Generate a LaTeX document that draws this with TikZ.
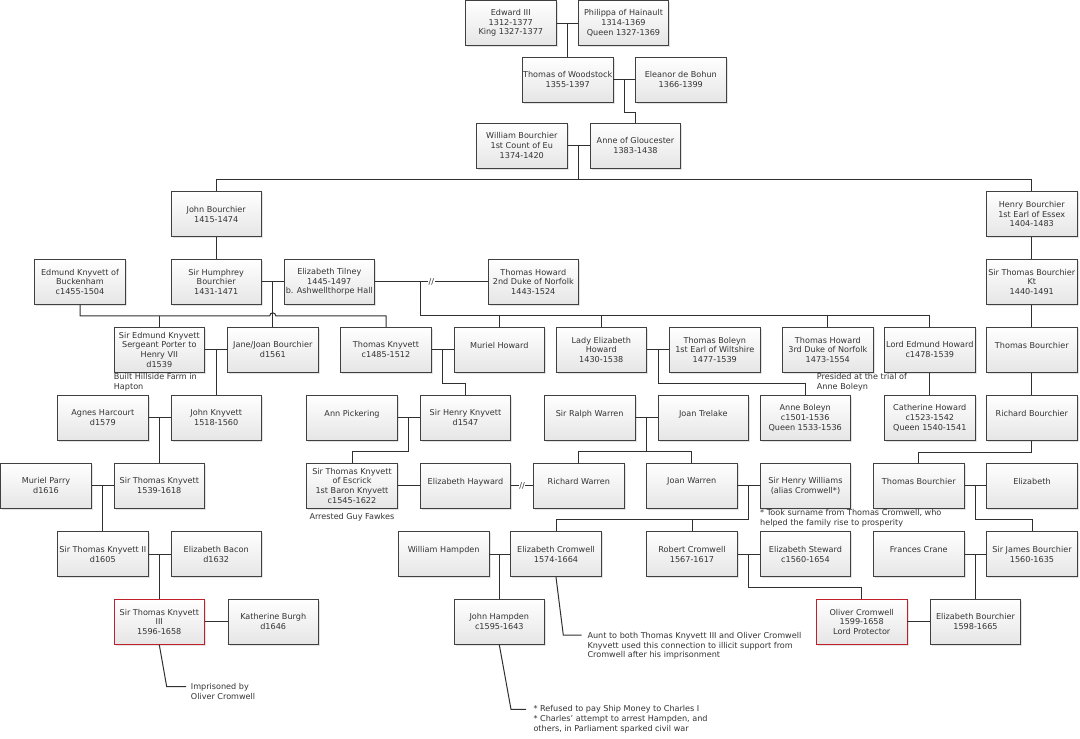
\documentclass[tikz,border=0pt]{standalone}
\usepackage{fontspec}
\setmainfont{DejaVu Sans}
\usetikzlibrary{calc,shadows}
\definecolor{boxline}{HTML}{404040}
\definecolor{connc}{HTML}{303030}
\definecolor{txt}{HTML}{333333}
\definecolor{redline}{RGB}{192,32,44}
\tikzset{
 person/.style={draw=boxline, line width=0.9pt, top color=white, bottom color=black!10,
   minimum width=90.5pt, minimum height=45pt, inner sep=0pt, align=center, text=txt,
   font=\fontsize{8.1}{9.7}\selectfont,
   drop shadow={shadow xshift=1.6pt, shadow yshift=-1.6pt, opacity=0.22}},
 redp/.style={person, draw=redline},
 link/.style={draw=connc, line width=1pt},
 note/.style={anchor=north west, align=left, inner sep=0pt, text=txt,
   font=\fontsize{8.1}{9.7}\selectfont, execute at begin node=\strut},
 sepmark/.style={fill=white, inner sep=0.6pt, text=txt, font=\fontsize{8.1}{9.7}\selectfont}
}
\begin{document}
\begin{tikzpicture}[x=1pt,y=-1pt]
\fill[white] (0,0) rectangle (1080,739);
\useasboundingbox (0,0) rectangle (1080,739);

% row 1
\node[person] (edward) at (510.8,23) {Edward III\\1312-1377\\King 1327-1377};
\node[person] (philippa) at (623.5,23) {Philippa of Hainault\\1314-1369\\Queen 1327-1369};
% row 2
\node[person] (woodstock) at (567.7,79.5) {Thomas of Woodstock\\1355-1397};
\node[person] (eleanor) at (680.8,79.5) {Eleanor de Bohun\\1366-1399};
% row 3
\node[person] (william) at (521.8,145.5) {William Bourchier\\1st Count of Eu\\1374-1420};
\node[person] (anne) at (635.5,145.5) {Anne of Gloucester\\1383-1438};
% row 4
\node[person] (johnb) at (216.2,214.2) {John Bourchier\\1415-1474};
\node[person] (henryb) at (1031.8,214.2) {Henry Bourchier\\1st Earl of Essex\\1404-1483};
% row 5
\node[person] (edmundkb) at (80,281.8) {Edmund Knyvett of\\Buckenham\\c1455-1504};
\node[person] (humphrey) at (216.2,281.8) {Sir Humphrey\\Bourchier\\1431-1471};
\node[person] (tilney) at (329.3,281.8) {Elizabeth Tilney\\1445-1497\\b. Ashwellthorpe Hall};
\node[person] (thowar2) at (533.3,281.8) {Thomas Howard\\2nd Duke of Norfolk\\1443-1524};
\node[person] (thomasbk) at (1031.8,281.8) {Sir Thomas Bourchier\\Kt\\1440-1491};
% row 6
\node[person] (edmundk) at (159.3,349.8) {Sir Edmund Knyvett\\Sergeant Porter to\\Henry VII\\d1539};
\node[person] (jane) at (272.8,349.8) {Jane/Joan Bourchier\\d1561};
\node[person] (thknyvett) at (386,349.8) {Thomas Knyvett\\c1485-1512};
\node[person] (muriel) at (499.3,349.8) {Muriel Howard\\\mbox{}};
\node[person] (lizhoward) at (601.3,349.8) {Lady Elizabeth\\Howard\\1430-1538};
\node[person] (boleyn) at (714.8,349.8) {Thomas Boleyn\\1st Earl of Wiltshire\\1477-1539};
\node[person] (thoward3) at (827.8,349.8) {Thomas Howard\\3rd Duke of Norfolk\\1473-1554};
\node[person] (lordedmund) at (929.8,349.8) {Lord Edmund Howard\\c1478-1539};
\node[person] (thomasb1) at (1031.8,349.8) {Thomas Bourchier\\\mbox{}};
% row 7
\node[person] (agnes) at (102.8,417.8) {Agnes Harcourt\\d1579};
\node[person] (johnk) at (216.2,417.8) {John Knyvett\\1518-1560};
\node[person] (annp) at (352,417.8) {Ann Pickering\\\mbox{}};
\node[person] (henryk) at (465.5,417.8) {Sir Henry Knyvett\\d1547};
\node[person] (ralph) at (589.7,417.8) {Sir Ralph Warren\\\mbox{}};
\node[person] (joant) at (703.3,417.8) {Joan Trelake\\\mbox{}};
\node[person] (anneb) at (805.2,417.8) {Anne Boleyn\\c1501-1536\\Queen 1533-1536};
\node[person] (catherine) at (929.8,417.8) {Catherine Howard\\c1523-1542\\Queen 1540-1541};
\node[person] (richardb) at (1031.8,417.8) {Richard Bourchier\\\mbox{}};
% row 8
\node[person] (murielp) at (46,485.8) {Muriel Parry\\d1616};
\node[person] (thomask1) at (159.3,485.8) {Sir Thomas Knyvett\\1539-1618};
\node[person] (escrick) at (352,485.8) {Sir Thomas Knyvett\\of Escrick\\1st Baron Knyvett\\c1545-1622};
\node[person] (hayward) at (465.5,485.8) {Elizabeth Hayward\\\mbox{}};
\node[person] (richardw) at (578.8,485.8) {Richard Warren\\\mbox{}};
\node[person] (joanw) at (691.7,485.8) {Joan Warren\\\mbox{}};
\node[person] (williams) at (805.5,485.8) {Sir Henry Williams\\(alias Cromwell*)};
\node[person] (thomasb2) at (918.8,485.8) {Thomas Bourchier\\\mbox{}};
\node[person] (elizabeth) at (1032,485.8) {Elizabeth\\\mbox{}};
% row 9
\node[person] (thomask2) at (102.8,554.2) {Sir Thomas Knyvett II\\d1605};
\node[person] (bacon) at (216.2,554.2) {Elizabeth Bacon\\d1632};
\node[person] (hampdenw) at (443.7,554.2) {William Hampden\\\mbox{}};
\node[person] (lizcromwell) at (556,554.2) {Elizabeth Cromwell\\1574-1664};
\node[person] (robert) at (692,554.2) {Robert Cromwell\\1567-1617};
\node[person] (steward) at (805.5,554.2) {Elizabeth Steward\\c1560-1654};
\node[person] (frances) at (918.8,554.2) {Frances Crane\\\mbox{}};
\node[person] (james) at (1032,554.2) {Sir James Bourchier\\1560-1635};
% row 10
\node[redp] (thomask3) at (159.3,621.8) {Sir Thomas Knyvett\\III\\1596-1658};
\node[person] (katherine) at (273.2,621.8) {Katherine Burgh\\d1646};
\node[person] (johnh) at (499.3,621.8) {John Hampden\\c1595-1643};
\node[redp] (oliver) at (861.7,621.8) {Oliver Cromwell\\1599-1658\\Lord Protector};
\node[person] (elizb) at (975.5,621.8) {Elizabeth Bourchier\\1598-1665};

% notes
\node[note] (n1) at (113.7,373.4) {Built Hillside Farm in\\Hapton};
\node[note] (n2) at (816.7,373.4) {Presided at the trial of\\Anne Boleyn};
\node[note] (n3) at (309.3,512.4) {Arrested Guy Fawkes};
\node[note] (n4) at (760,509.4) {* Took surname from Thomas Cromwell, who\\helped the family rise to prosperity};
\node[note] (n5) at (587.3,632) {Aunt to both Thomas Knyvett III and Oliver Cromwell\\Knyvett used this connection to illicit support from\\Cromwell after his imprisonment};
\node[note] (n6) at (533.3,705.4) {* Refused to pay Ship Money to Charles I\\* Charles' attempt to arrest Hampden, and\\others, in Parliament sparked civil war};
\node[note] (n7) at (190.7,683.4) {Imprisoned by\\Oliver Cromwell};

% connectors
\draw[link] (edward.east) -- (philippa.west);
\coordinate (m1) at ($(edward.east)!.5!(philippa.west)$);
\draw[link] (m1) -- (m1 |- woodstock.north);

\draw[link] (woodstock.east) -- (eleanor.west);
\coordinate (m2) at ($(woodstock.east)!.5!(eleanor.west)$);
\draw[link] (m2) |- ([yshift=10pt]anne.north) -- (anne.north);

\draw[link] (william.east) -- (anne.west);
\coordinate (m3) at ($(william.east)!.5!(anne.west)$);
\coordinate (b1) at ([yshift=11.7pt]johnb.north);
\draw[link] (m3) -- (m3 |- b1);
\draw[link] (johnb.north) -- (b1) -| (henryb.north);

\draw[link] (johnb.south) -- (humphrey.north);
\draw[link] (humphrey.east) -- (tilney.west);
\coordinate (m4) at ($(humphrey.east)!.5!(tilney.west)$);
\draw[link] (m4) -- (m4 |- jane.north);

\coordinate (b2) at ([yshift=11pt]edmundk.north);
\draw[link] (edmundkb.south) -- (edmundkb.south |- b2) -- ([xshift=-3pt]m4 |- b2)
  arc[start angle=180, end angle=0, radius=3pt] -- (thknyvett.north |- b2) -- (thknyvett.north);
\draw[link] (edmundk.north) -- (b2);

\draw[link] (edmundk.east) -- (jane.west);
\coordinate (m5) at ($(edmundk.east)!.5!(jane.west)$);
\draw[link] (m5) -- (m5 |- johnk.north);

\draw[link] (thknyvett.east) -- (muriel.west);
\coordinate (m6) at ($(thknyvett.east)!.5!(muriel.west)$);
\draw[link] (m6) |- ([yshift=11pt]henryk.north) -- (henryk.north);

\draw[link] (tilney.east) -- node[sepmark]{//} (thowar2.west);
\coordinate (j1) at ($(tilney.east)!.406!(thowar2.west)$);
\coordinate (b3) at ([yshift=11pt]lordedmund.north);
\draw[link] (j1) |- (b3) -- (lordedmund.north);
\draw[link] (muriel.north) -- (muriel.north |- b3);
\draw[link] (lizhoward.north) -- (lizhoward.north |- b3);
\draw[link] (thoward3.north) -- (thoward3.north |- b3);

\draw[link] (lizhoward.east) -- (boleyn.west);
\coordinate (m8) at ($(lizhoward.east)!.5!(boleyn.west)$);
\draw[link] (m8) |- ([yshift=11pt]anneb.north) -- (anneb.north);

\draw[link] (lordedmund.south) -- (catherine.north);
\draw[link] (henryb.south) -- (thomasbk.north);
\draw[link] (thomasbk.south) -- (thomasb1.north);
\draw[link] (thomasb1.south) -- (richardb.north);
\draw[link] (richardb.south) |- ([yshift=10.6pt]thomasb2.north) -- (thomasb2.north);

\draw[link] (agnes.east) -- (johnk.west);
\coordinate (m9) at ($(agnes.east)!.5!(johnk.west)$);
\draw[link] (m9) -- (m9 |- thomask1.north);

\draw[link] (annp.east) -- (henryk.west);
\coordinate (m10) at ($(annp.east)!.5!(henryk.west)$);
\draw[link] (m10) |- ([yshift=11.7pt]escrick.north) -- (escrick.north);

\draw[link] (ralph.east) -- (joant.west);
\coordinate (m11) at ($(ralph.east)!.5!(joant.west)$);
\coordinate (b4) at ([yshift=11pt]richardw.north);
\draw[link] (m11) -- (m11 |- b4);
\draw[link] (richardw.north) -- (b4) -| (joanw.north);

\draw[link] (murielp.east) -- (thomask1.west);
\coordinate (m12) at ($(murielp.east)!.5!(thomask1.west)$);
\draw[link] (m12) -- (m12 |- thomask2.north);

\draw[link] (escrick.east) -- (hayward.west);
\draw[link] (hayward.east) -- node[sepmark]{//} (richardw.west);

\draw[link] (joanw.east) -- (williams.west);
\coordinate (m13) at ($(joanw.east)!.5!(williams.west)$);
\coordinate (b5) at ([yshift=11.4pt]lizcromwell.north);
\draw[link] (m13) |- (b5) -- (lizcromwell.north);
\draw[link] (robert.north) -- (robert.north |- b5);

\draw[link] (thomasb2.east) -- (elizabeth.west);
\coordinate (m14) at ($(thomasb2.east)!.5!(elizabeth.west)$);
\draw[link] (m14) |- ([yshift=11.4pt]james.north) -- (james.north);

\draw[link] (thomask2.east) -- (bacon.west);
\coordinate (m15) at ($(thomask2.east)!.5!(bacon.west)$);
\draw[link] (m15) -- (m15 |- thomask3.north);

\draw[link] (hampdenw.east) -- (lizcromwell.west);
\coordinate (m16) at ($(hampdenw.east)!.5!(lizcromwell.west)$);
\draw[link] (m16) -- (m16 |- johnh.north);

\draw[link] (robert.east) -- (steward.west);
\coordinate (m17) at ($(robert.east)!.5!(steward.west)$);
\draw[link] (m17) |- ([yshift=11pt]oliver.north) -- (oliver.north);

\draw[link] (frances.east) -- (james.west);
\coordinate (m18) at ($(frances.east)!.5!(james.west)$);
\draw[link] (m18) -- (m18 |- elizb.north);

\draw[link] (thomask3.east) -- (katherine.west);
\draw[link] (oliver.east) -- (elizb.west);

% callouts
\coordinate (c7) at (166.7,686.7);
\draw[link] (thomask3.south) -- (c7) -- ([xshift=-4.7pt]c7 -| n7.west);
\coordinate (c5) at (563.3,635);
\draw[link] (lizcromwell.south) -- (c5) -- ([xshift=-5.6pt]c5 -| n5.west);
\coordinate (c6) at (511,709.3);
\draw[link] (johnh.south) -- (c6) -- ([xshift=-7.3pt]c6 -| n6.west);
\end{tikzpicture}
\end{document}
